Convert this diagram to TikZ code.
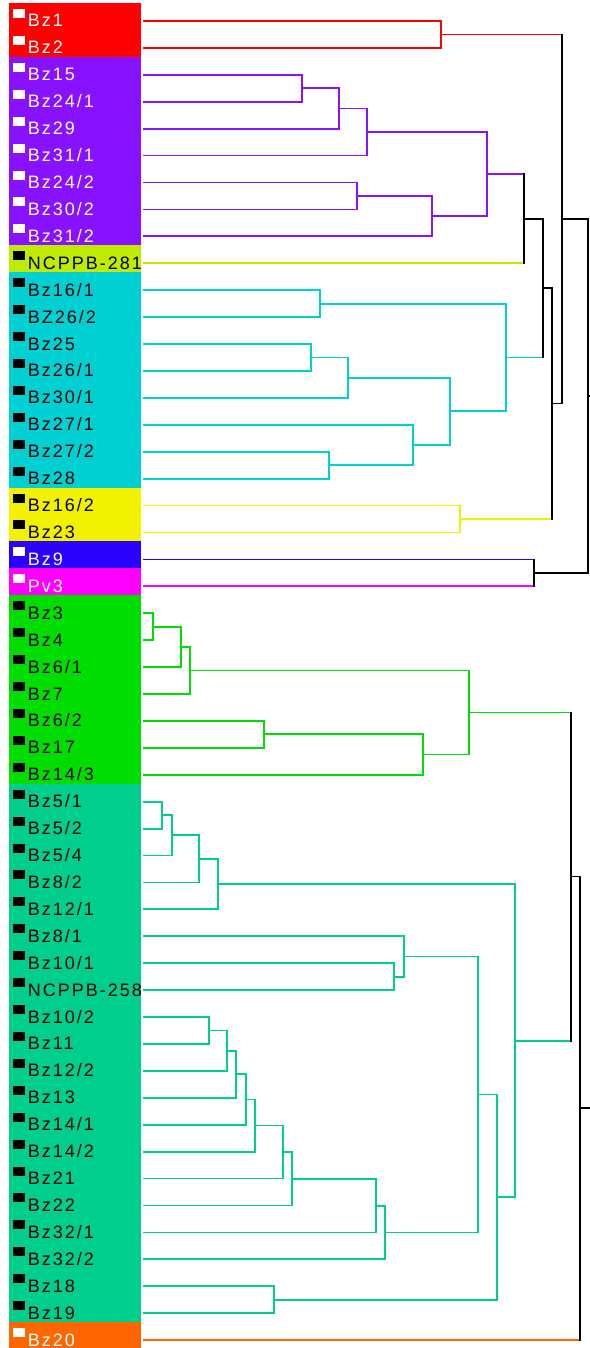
\documentclass[tikz,border=0pt]{standalone}
\usepackage{fontspec}
\setmainfont{Liberation Sans}[LetterSpace=11]
\usetikzlibrary{calc}

\definecolor{cRed}{HTML}{FF0000}
\definecolor{cPurple}{HTML}{8811FF}
\definecolor{cLime}{HTML}{BEEB00}
\definecolor{cCyan}{HTML}{00D0D2}
\definecolor{cYellow}{HTML}{F2F200}
\definecolor{cBlue}{HTML}{2A00FF}
\definecolor{cMagenta}{HTML}{FF00FF}
\definecolor{cGreen}{HTML}{00DD00}
\definecolor{cTeal}{HTML}{00CE8C}
\definecolor{cOrange}{HTML}{FF6600}

% #1 name, #2 x, #3 #4 children, #5 #6 their colours, #7 colour of the upright
\newcommand\joinup[7]{%
  \path let \p1=(#3), \p2=(#4) in coordinate (#1) at (#2pt,{0.5*(\y1+\y2)});
  \draw[#5] (#3) -- (#3 -| #1);
  \draw[#6] (#4) -- (#4 -| #1);
  \draw[#7] (#3 -| #1) -- (#4 -| #1);
}
\newcommand\clade[5]{\joinup{#2}{#3}{#4}{#5}{#1}{#1}{#1}}

\tikzset{
  leaf/.style={anchor=base west, inner sep=0pt, font=\fontsize{18}{20}\selectfont}
}

\begin{document}
\begin{tikzpicture}[x=1pt, y=-1pt, line width=1.8pt, line cap=rect]
	%%%%% START %%%%%
	\useasboundingbox (0,0) rectangle (589,1348);
	
	% coloured bands behind the labels
	\foreach \a/\b/\col in {0/1/cRed, 2/8/cPurple, 9/9/cLime, 10/17/cCyan, 18/19/cYellow,
	    20/20/cBlue, 21/21/cMagenta, 22/28/cGreen, 29/48/cTeal, 49/49/cOrange}
		\fill[\col] (9,{3+26.92*\a}) rectangle (141,{30+26.92*\b});
	
	% leaves
	\foreach \i/\lab/\col in {0/Bz1/white, 1/Bz2/white, 2/Bz15/white, 3/{Bz24/1}/white,
	    4/Bz29/white, 5/{Bz31/1}/white, 6/{Bz24/2}/white, 7/{Bz30/2}/white, 8/{Bz31/2}/white,
	    9/NCPPB-281/black, 10/{Bz16/1}/black, 11/{BZ26/2}/black, 12/Bz25/black,
	    13/{Bz26/1}/black, 14/{Bz30/1}/black, 15/{Bz27/1}/black, 16/{Bz27/2}/black,
	    17/Bz28/black, 18/{Bz16/2}/black, 19/Bz23/black, 20/Bz9/white, 21/Pv3/white,
	    22/Bz3/black, 23/Bz4/black, 24/{Bz6/1}/black, 25/Bz7/black, 26/{Bz6/2}/black,
	    27/Bz17/black, 28/{Bz14/3}/black, 29/{Bz5/1}/black, 30/{Bz5/2}/black,
	    31/{Bz5/4}/black, 32/{Bz8/2}/black, 33/{Bz12/1}/black, 34/{Bz8/1}/black,
	    35/{Bz10/1}/black, 36/NCPPB-258/black, 37/{Bz10/2}/black, 38/Bz11/black,
	    39/{Bz12/2}/black, 40/Bz13/black, 41/{Bz14/1}/black, 42/{Bz14/2}/black,
	    43/Bz21/black, 44/Bz22/black, 45/{Bz32/1}/black, 46/{Bz32/2}/black,
	    47/Bz18/black, 48/Bz19/black, 49/Bz20/white}{
		\coordinate (L\i) at (144,{21+26.92*\i});
		\fill[\col] (13,{9+26.92*\i}) rectangle (25,{18+26.92*\i});
		\node[leaf, text=\col] (T\i) at (27,{27+26.92*\i}) {\lab};
	}
	
	% upper half
	\clade{cRed}{n1}{441}{L0}{L1}
	\clade{cPurple}{p1}{301.7}{L2}{L3}
	\clade{cPurple}{p2}{338.7}{p1}{L4}
	\clade{cPurple}{p3}{366.7}{p2}{L5}
	\clade{cPurple}{p4}{357.3}{L6}{L7}
	\clade{cPurple}{p5}{432}{p4}{L8}
	\clade{cPurple}{p6}{487.3}{p3}{p5}
	\joinup{k1}{524.3}{p6}{L9}{cPurple}{cLime}{black}
	\clade{cCyan}{c1}{320.3}{L10}{L11}
	\clade{cCyan}{c2}{310.7}{L12}{L13}
	\clade{cCyan}{c3}{348}{c2}{L14}
	\clade{cCyan}{c4}{329.3}{L16}{L17}
	\clade{cCyan}{c5}{413.3}{L15}{c4}
	\clade{cCyan}{c6}{450.3}{c3}{c5}
	\clade{cCyan}{c7}{506.3}{c1}{c6}
	\joinup{k2}{543}{k1}{c7}{black}{cCyan}{black}
	\clade{cYellow}{y1}{459.7}{L18}{L19}
	\joinup{k3}{552}{k2}{y1}{black}{cYellow}{black}
	\joinup{k4}{562}{n1}{k3}{cRed}{black}{black}
	\joinup{k5}{534}{L20}{L21}{cBlue}{cMagenta}{black}
	\joinup{k6}{588}{k4}{k5}{black}{black}{black}
	\draw (k6) -- ++(4,0);
	
	% lower half
	\clade{cGreen}{g1}{153}{L22}{L23}
	\clade{cGreen}{g2}{181}{g1}{L24}
	\clade{cGreen}{g3}{190}{g2}{L25}
	\clade{cGreen}{g4}{264.3}{L26}{L27}
	\clade{cGreen}{g5}{422.7}{g4}{L28}
	\clade{cGreen}{g6}{469}{g3}{g5}
	\clade{cTeal}{t1}{162.3}{L29}{L30}
	\clade{cTeal}{t2}{171.7}{t1}{L31}
	\clade{cTeal}{t3}{199.3}{t2}{L32}
	\clade{cTeal}{t4}{218}{t3}{L33}
	\clade{cTeal}{t5}{394.3}{L35}{L36}
	\clade{cTeal}{t6}{403.7}{L34}{t5}
	\clade{cTeal}{t7}{209}{L37}{L38}
	\clade{cTeal}{t8}{227}{t7}{L39}
	\clade{cTeal}{t9}{236.3}{t8}{L40}
	\clade{cTeal}{t10}{246}{t9}{L41}
	\clade{cTeal}{t11}{255.3}{t10}{L42}
	\clade{cTeal}{t12}{283}{t11}{L43}
	\clade{cTeal}{t13}{292.3}{t12}{L44}
	\clade{cTeal}{t14}{376}{t13}{L45}
	\clade{cTeal}{t15}{385.3}{t14}{L46}
	\clade{cTeal}{t16}{478.3}{t6}{t15}
	\clade{cTeal}{t17}{274}{L47}{L48}
	\clade{cTeal}{t18}{497}{t16}{t17}
	\clade{cTeal}{t19}{515.3}{t4}{t18}
	\joinup{k7}{570.7}{g6}{t19}{cGreen}{cTeal}{black}
	\joinup{k8}{580}{k7}{L49}{black}{cOrange}{black}
	\draw (k8) -- ++(12,0);
	
	%%%%% END %%%%%
\end{tikzpicture}
\end{document}
